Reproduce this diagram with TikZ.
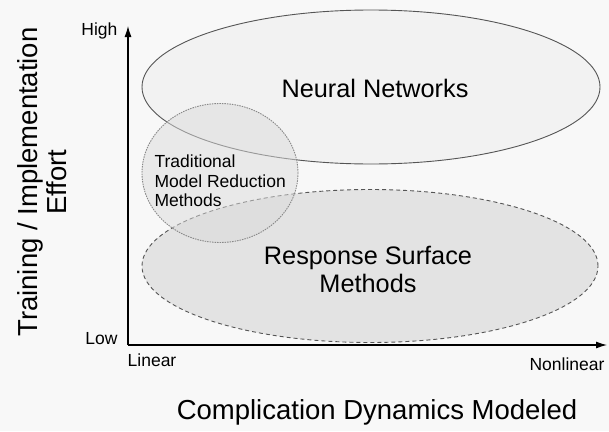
\documentclass[tikz,border=0pt]{standalone}
\usepackage{fontspec}
\setmainfont{Liberation Sans}
\usetikzlibrary{shapes.geometric,arrows.meta}
\definecolor{paper}{HTML}{F8F8F8}
\definecolor{rim}{HTML}{555555}
\begin{document}
\begin{tikzpicture}[x=1pt,y=-1pt,
  region/.style={ellipse,inner sep=0pt,draw=rim,line width=0.9pt},
  axisline/.style={line width=1.1pt,-{Latex[length=11pt,width=7pt]}},
  tick/.style={font=\fontsize{17.5}{20}\selectfont},
  big/.style={font=\fontsize{25.3}{28}\selectfont,align=center},
  title/.style={font=\fontsize{27.5}{29}\selectfont,align=center}]
  % canvas
  \fill[paper] (0,0) rectangle (609,431);
  \useasboundingbox (0,0) rectangle (609,431);

  % regions of the method map
  \node[region,fill=black!5,minimum width=458pt,minimum height=154pt] (nn) at (371,87) {};
  \node[region,fill=black!12,fill opacity=0.85,dash pattern=on 4pt off 3pt,
        minimum width=456pt,minimum height=153pt] (rsm) at (370,266) {};
  \node[region,fill=black!14,fill opacity=0.5,draw=rim!70,dash pattern=on 1.5pt off 1pt,
        minimum width=156pt,minimum height=139pt] (tmr) at (220,173) {};

  % axes
  \coordinate (o) at (128,345);
  \coordinate (ytop) at (128,26);
  \coordinate (xend) at (607,345);
  \draw[axisline] (o) -- (ytop);
  \draw[axisline] (o) -- (xend);

  % axis ticks
  \node[tick,anchor=east] (high) at (121,31) {High};
  \node[tick,anchor=east] (low) at (121,339) {Low};
  \node[tick] (lin) at (152,360) {Linear};
  \node[tick,anchor=east] (nonlin) at (608,364) {Nonlinear};

  % region labels
  \node[big] (nnl) at (375,88) {Neural Networks};
  \node[big] (rsml) at (368,269) {Response Surface\\Methods};
  \node[tick,align=left,anchor=west,font=\fontsize{17.5}{19.7}\selectfont] (tmrl) at (151,181)
    {Traditional\\Model Reduction\\Methods};

  % axis titles
  \node[title,rotate=90] (ylab) at (42,182) {Training / Implementation\\Effort};
  \node[title] (xlab) at (377,412) {Complication Dynamics Modeled};
\end{tikzpicture}
\end{document}
